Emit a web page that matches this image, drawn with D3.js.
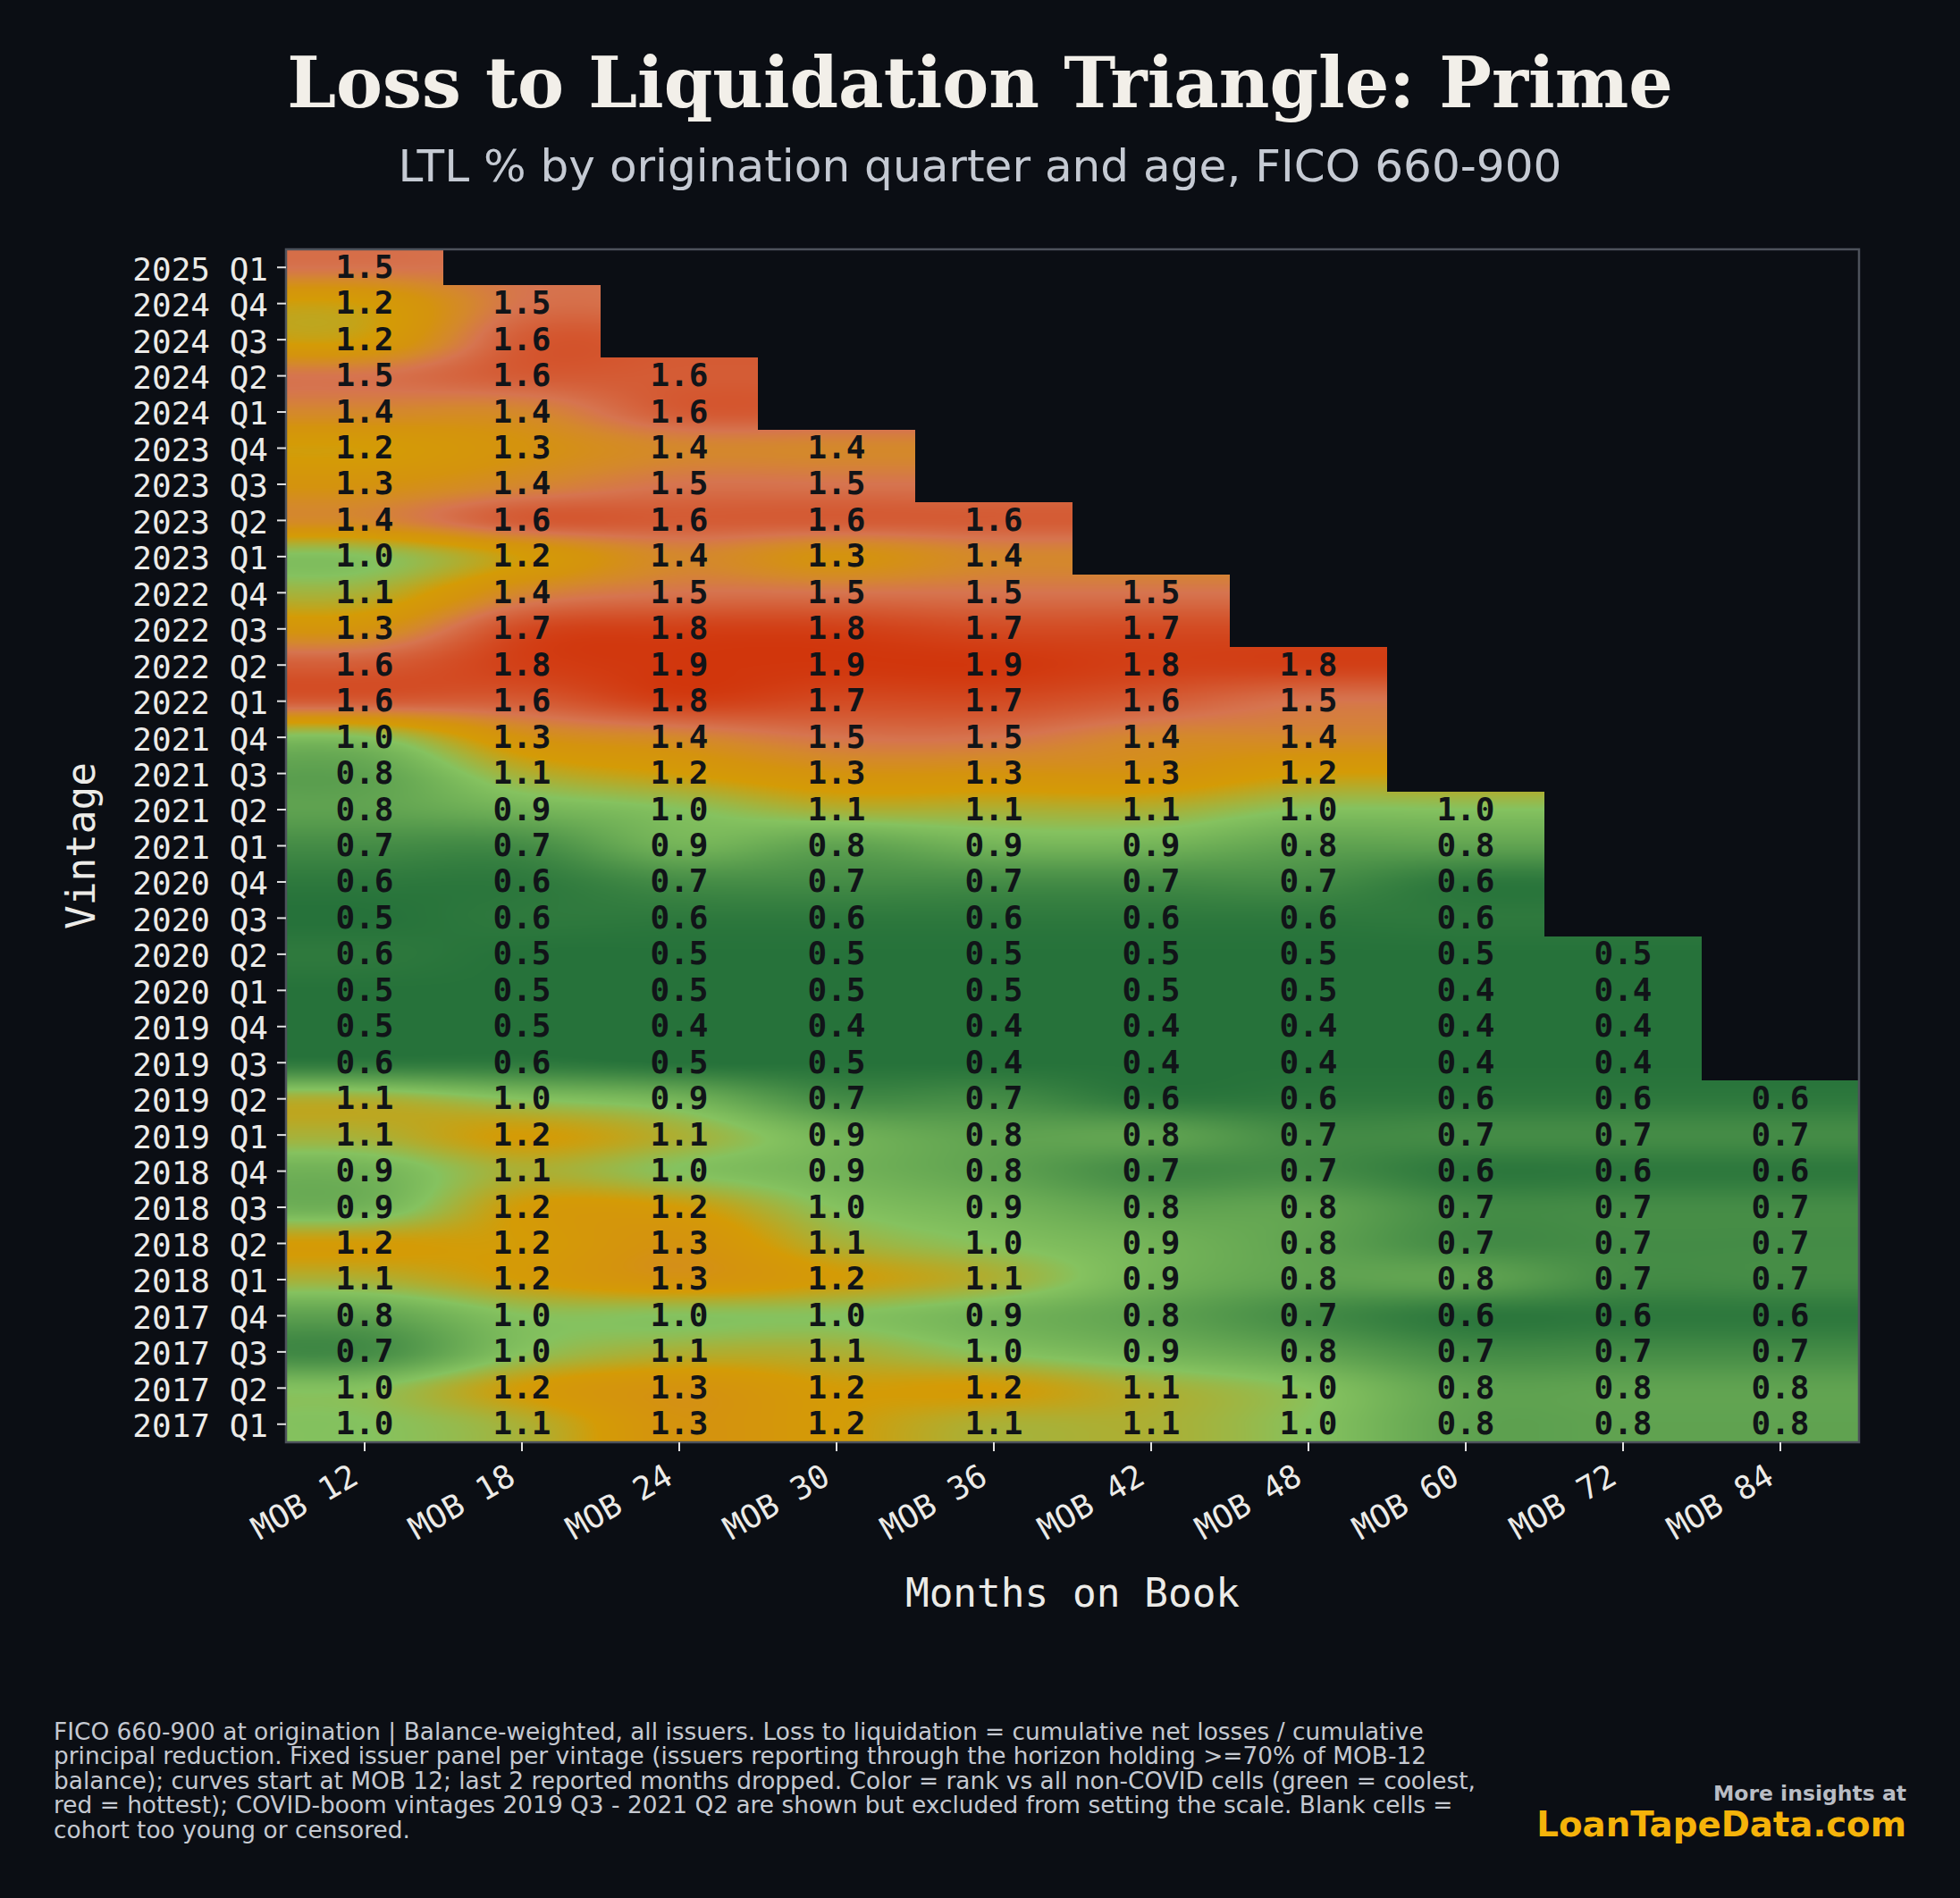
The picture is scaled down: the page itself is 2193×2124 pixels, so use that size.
<!DOCTYPE html>
<html>
<head>
<meta charset="utf-8">
<script src="https://cdn.jsdelivr.net/npm/d3@7"></script>
<style>
  html, body { margin: 0; padding: 0; background: #0b0e14; }
  svg { display: block; }
</style>
</head>
<body>
<script>
// ---- data ----
const vintages = ["2025 Q1", "2024 Q4", "2024 Q3", "2024 Q2", "2024 Q1",
  "2023 Q4", "2023 Q3", "2023 Q2", "2023 Q1",
  "2022 Q4", "2022 Q3", "2022 Q2", "2022 Q1",
  "2021 Q4", "2021 Q3", "2021 Q2", "2021 Q1",
  "2020 Q4", "2020 Q3", "2020 Q2", "2020 Q1",
  "2019 Q4", "2019 Q3", "2019 Q2", "2019 Q1",
  "2018 Q4", "2018 Q3", "2018 Q2", "2018 Q1",
  "2017 Q4", "2017 Q3", "2017 Q2", "2017 Q1"];

const mobs = ["MOB 12", "MOB 18", "MOB 24", "MOB 30", "MOB 36", "MOB 42", "MOB 48", "MOB 60", "MOB 72", "MOB 84"];

// vintages excluded from setting the colour scale
const covidVintages = ["2021 Q2", "2021 Q1", "2020 Q4", "2020 Q3", "2020 Q2", "2020 Q1", "2019 Q4", "2019 Q3"];

// LTL % per vintage (row) and MOB (column); shorter rows = blank (censored) cells
const ltl = [
  [1.5],
  [1.2, 1.5],
  [1.2, 1.6],
  [1.5, 1.6, 1.6],
  [1.4, 1.4, 1.6],
  [1.2, 1.3, 1.4, 1.4],
  [1.3, 1.4, 1.5, 1.5],
  [1.4, 1.6, 1.6, 1.6, 1.6],
  [1.0, 1.2, 1.4, 1.3, 1.4],
  [1.1, 1.4, 1.5, 1.5, 1.5, 1.5],
  [1.3, 1.7, 1.8, 1.8, 1.7, 1.7],
  [1.6, 1.8, 1.9, 1.9, 1.9, 1.8, 1.8],
  [1.6, 1.6, 1.8, 1.7, 1.7, 1.6, 1.5],
  [1.0, 1.3, 1.4, 1.5, 1.5, 1.4, 1.4],
  [0.8, 1.1, 1.2, 1.3, 1.3, 1.3, 1.2],
  [0.8, 0.9, 1.0, 1.1, 1.1, 1.1, 1.0, 1.0],
  [0.7, 0.7, 0.9, 0.8, 0.9, 0.9, 0.8, 0.8],
  [0.6, 0.6, 0.7, 0.7, 0.7, 0.7, 0.7, 0.6],
  [0.5, 0.6, 0.6, 0.6, 0.6, 0.6, 0.6, 0.6],
  [0.6, 0.5, 0.5, 0.5, 0.5, 0.5, 0.5, 0.5, 0.5],
  [0.5, 0.5, 0.5, 0.5, 0.5, 0.5, 0.5, 0.4, 0.4],
  [0.5, 0.5, 0.4, 0.4, 0.4, 0.4, 0.4, 0.4, 0.4],
  [0.6, 0.6, 0.5, 0.5, 0.4, 0.4, 0.4, 0.4, 0.4],
  [1.1, 1.0, 0.9, 0.7, 0.7, 0.6, 0.6, 0.6, 0.6, 0.6],
  [1.1, 1.2, 1.1, 0.9, 0.8, 0.8, 0.7, 0.7, 0.7, 0.7],
  [0.9, 1.1, 1.0, 0.9, 0.8, 0.7, 0.7, 0.6, 0.6, 0.6],
  [0.9, 1.2, 1.2, 1.0, 0.9, 0.8, 0.8, 0.7, 0.7, 0.7],
  [1.2, 1.2, 1.3, 1.1, 1.0, 0.9, 0.8, 0.7, 0.7, 0.7],
  [1.1, 1.2, 1.3, 1.2, 1.1, 0.9, 0.8, 0.8, 0.7, 0.7],
  [0.8, 1.0, 1.0, 1.0, 0.9, 0.8, 0.7, 0.6, 0.6, 0.6],
  [0.7, 1.0, 1.1, 1.1, 1.0, 0.9, 0.8, 0.7, 0.7, 0.7],
  [1.0, 1.2, 1.3, 1.2, 1.2, 1.1, 1.0, 0.8, 0.8, 0.8],
  [1.0, 1.1, 1.3, 1.2, 1.1, 1.1, 1.0, 0.8, 0.8, 0.8]
];

// colour ramp over percentile rank
const rampStops = [0, 0.4, 0.583, 0.669, 0.74, 0.81, 1];
const rampColors = ["#26723a", "#85c25f", "#d49b06", "#d4930e", "#d4882c", "#d6744f", "#d1340a"];

const footnote = [
  "FICO 660-900 at origination | Balance-weighted, all issuers. Loss to liquidation = cumulative net losses / cumulative",
  "principal reduction. Fixed issuer panel per vintage (issuers reporting through the horizon holding >=70% of MOB-12",
  "balance); curves start at MOB 12; last 2 reported months dropped. Color = rank vs all non-COVID cells (green = coolest,",
  "red = hottest); COVID-boom vintages 2019 Q3 - 2021 Q2 are shown but excluded from setting the scale. Blank cells =",
  "cohort too young or censored."
];

// ---- layout ----
const width = 2193, height = 2124;
const margin = {top: 279, right: 113, bottom: 510, left: 320};
const bg = "#0b0e14";

const svg = d3.select("body").append("svg")
  .attr("width", width)
  .attr("height", height)
  .attr("viewBox", [0, 0, width, height])
  .style("background", bg);

const x = d3.scaleBand().domain(mobs).range([margin.left, width - margin.right]);
const y = d3.scaleBand().domain(vintages).range([margin.top, height - margin.bottom]);

// ---- colour = percentile rank vs non-covid cells ----
const baseVals = [];
ltl.forEach((row, i) => {
  if (!covidVintages.includes(vintages[i])) row.forEach(v => baseVals.push(v));
});
baseVals.sort(d3.ascending);

function pctRank(v) {
  const lo = d3.bisectLeft(baseVals, v - 1e-9);
  const hi = d3.bisectRight(baseVals, v + 1e-9);
  return (lo + (hi - lo) / 2) / baseVals.length;
}

const color = d3.scaleLinear()
  .domain(rampStops)
  .range(rampColors)
  .interpolate(d3.interpolateRgb)
  .clamp(true);

const nR = vintages.length, nC = mobs.length;

// rank grid, blank cells forward-filled along the row (only used for smoothing)
const grid = ltl.map(row => {
  const out = [];
  let last = 0;
  for (let c = 0; c < nC; c++) {
    if (c < row.length) last = pctRank(row[c]);
    out.push(last);
  }
  return out;
});

// catmull-rom weights for offsets -1, 0, 1, 2
function cubicW(t) {
  const t2 = t * t, t3 = t2 * t;
  return [(-t3 + 2 * t2 - t) / 2, (3 * t3 - 5 * t2 + 2) / 2, (-3 * t3 + 4 * t2 + t) / 2, (t3 - t2) / 2];
}

function smoothImage() {
  const W = Math.round(x.range()[1] - x.range()[0]);
  const H = Math.round(y.range()[1] - y.range()[0]);
  const cw = x.bandwidth(), ch = y.bandwidth();
  const canvas = document.createElement("canvas");
  canvas.width = W;
  canvas.height = H;
  const ctx = canvas.getContext("2d");
  const img = ctx.createImageData(W, H);

  const lut = d3.range(1024).map(i => d3.rgb(color(i / 1023)));

  // horizontal pass
  const Hrow = grid.map(() => new Float64Array(W));
  const colIdx = new Int32Array(W);
  for (let px = 0; px < W; px++) {
    const u = (px + 0.5) / cw - 0.5;
    const i0 = Math.floor(u);
    const w = cubicW(u - i0);
    colIdx[px] = Math.min(nC - 1, Math.floor((px + 0.5) / cw));
    for (let r = 0; r < nR; r++) {
      let s = 0;
      for (let k = 0; k < 4; k++) {
        const c = Math.max(0, Math.min(nC - 1, i0 - 1 + k));
        s += w[k] * grid[r][c];
      }
      Hrow[r][px] = s;
    }
  }

  // vertical pass
  for (let py = 0; py < H; py++) {
    const v = (py + 0.5) / ch - 0.5;
    const j0 = Math.floor(v);
    const w = cubicW(v - j0);
    const rows = [0, 1, 2, 3].map(k => Math.max(0, Math.min(nR - 1, j0 - 1 + k)));
    const ri = Math.min(nR - 1, Math.floor((py + 0.5) / ch));
    const len = ltl[ri].length;
    for (let px = 0; px < W; px++) {
      if (colIdx[px] >= len) continue;
      let s = 0;
      for (let k = 0; k < 4; k++) s += w[k] * Hrow[rows[k]][px];
      const idx = Math.max(0, Math.min(1023, Math.round(s * 1023)));
      const c = lut[idx];
      const o = (py * W + px) * 4;
      img.data[o] = c.r;
      img.data[o + 1] = c.g;
      img.data[o + 2] = c.b;
      img.data[o + 3] = 255;
    }
  }
  ctx.putImageData(img, 0, 0);
  return canvas;
}

svg.append("image")
  .attr("x", x.range()[0])
  .attr("y", y.range()[0])
  .attr("width", x.range()[1] - x.range()[0])
  .attr("height", y.range()[1] - y.range()[0])
  .attr("preserveAspectRatio", "none")
  .attr("href", smoothImage().toDataURL());

// ---- cell labels ----
const cells = [];
ltl.forEach((row, i) => row.forEach((v, j) => cells.push({vintage: vintages[i], mob: mobs[j], value: v})));

svg.append("g")
  .selectAll("text")
  .data(cells)
  .join("text")
  .attr("x", d => x(d.mob) + x.bandwidth() / 2)
  .attr("y", d => y(d.vintage) + y.bandwidth() / 2 + 11.5)
  .attr("text-anchor", "middle")
  .attr("font-family", "DejaVu Sans Mono")
  .attr("font-weight", "bold")
  .attr("font-size", 36)
  .attr("fill", "#111418")
  .text(d => d3.format(".1f")(d.value));

// ---- frame ----
svg.append("rect")
  .attr("x", x.range()[0])
  .attr("y", y.range()[0])
  .attr("width", x.range()[1] - x.range()[0])
  .attr("height", y.range()[1] - y.range()[0])
  .attr("fill", "none")
  .attr("stroke", "#4d525b")
  .attr("stroke-width", 2.5);

// ---- axes ----
const tickColor = "#e2e2e2";
const labelColor = "#ecebe8";

svg.append("g")
  .attr("transform", `translate(${margin.left},0)`)
  .call(d3.axisLeft(y).tickSize(10).tickPadding(10))
  .call(g => g.select(".domain").remove())
  .call(g => g.selectAll(".tick line").attr("stroke", tickColor).attr("stroke-width", 2))
  .call(g => g.selectAll(".tick text")
    .attr("fill", labelColor)
    .attr("font-family", "DejaVu Sans Mono")
    .attr("font-size", 36)
    .attr("dy", "0.4em"));

svg.append("g")
  .attr("transform", `translate(0,${y.range()[1]})`)
  .call(d3.axisBottom(x).tickSize(10))
  .call(g => g.select(".domain").remove())
  .call(g => g.selectAll(".tick line").attr("stroke", tickColor).attr("stroke-width", 2))
  .call(g => g.selectAll(".tick text")
    .attr("fill", labelColor)
    .attr("font-family", "DejaVu Sans Mono")
    .attr("font-size", 36)
    .attr("x", null)
    .attr("y", null)
    .attr("dy", null)
    .attr("text-anchor", "end")
    .attr("transform", "translate(-5,45) rotate(-30)"));

svg.append("text")
  .attr("transform", `translate(106,${(y.range()[0] + y.range()[1]) / 2}) rotate(-90)`)
  .attr("text-anchor", "middle")
  .attr("font-family", "DejaVu Sans Mono")
  .attr("font-size", 44.4)
  .attr("fill", labelColor)
  .text("Vintage");

svg.append("text")
  .attr("x", (x.range()[0] + x.range()[1]) / 2)
  .attr("y", 1798)
  .attr("text-anchor", "middle")
  .attr("font-family", "DejaVu Sans Mono")
  .attr("font-size", 44.4)
  .attr("fill", labelColor)
  .text("Months on Book");

// ---- titles ----
svg.append("text")
  .attr("x", width / 2)
  .attr("y", 120)
  .attr("text-anchor", "middle")
  .attr("font-family", "DejaVu Serif")
  .attr("font-weight", "bold")
  .attr("font-size", 78)
  .attr("fill", "#f2efe9")
  .text("Loss to Liquidation Triangle: Prime");

svg.append("text")
  .attr("x", width / 2)
  .attr("y", 203)
  .attr("text-anchor", "middle")
  .attr("font-family", "DejaVu Sans")
  .attr("font-size", 50.1)
  .attr("fill", "#c5cad3")
  .text("LTL % by origination quarter and age, FICO 660-900");

// ---- footnote and branding ----
svg.append("g")
  .selectAll("text")
  .data(footnote)
  .join("text")
  .attr("x", 60)
  .attr("y", (d, i) => 1946.5 + i * 27.5)
  .attr("font-family", "DejaVu Sans")
  .attr("font-size", 26.4)
  .attr("fill", "#c5c9d1")
  .text(d => d);

svg.append("text")
  .attr("x", 2133)
  .attr("y", 2015)
  .attr("text-anchor", "end")
  .attr("font-family", "DejaVu Sans")
  .attr("font-weight", "bold")
  .attr("font-size", 23.5)
  .attr("fill", "#b9bdc5")
  .text("More insights at");

svg.append("text")
  .attr("x", 2133)
  .attr("y", 2055)
  .attr("text-anchor", "end")
  .attr("font-family", "DejaVu Sans")
  .attr("font-weight", "bold")
  .attr("font-size", 38.7)
  .attr("fill", "#f5b30a")
  .text("LoanTapeData.com");
</script>
</body>
</html>
